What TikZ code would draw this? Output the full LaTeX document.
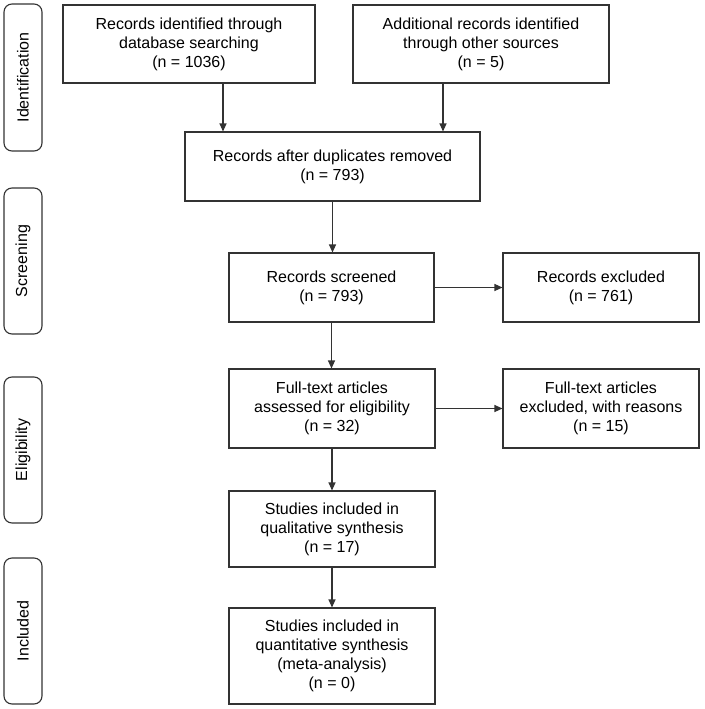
\documentclass[tikz,border=0pt]{standalone}
\usepackage{fontspec}
\setmainfont{Liberation Sans}
\usetikzlibrary{arrows.meta}
\begin{document}
\begin{tikzpicture}[x=1pt,y=-1pt,
  box/.style={draw=black!80, line width=1.1pt, inner sep=0pt, align=center,
    font=\fontsize{16}{19}\selectfont},
  side/.style={draw=black!80, line width=1.1pt, rounded corners=8pt, inner sep=0pt,
    rotate=90, minimum height=38pt, font=\fontsize{16}{19}\selectfont},
  arr/.style={draw=black!80, line width=1.1pt, -{Triangle[length=8pt,width=7pt]}}]
\useasboundingbox[fill=white] (0,0) rectangle (704,709);

% phase labels
\node[side, minimum width=147pt] (id)  at (23,77.5) {Identification};
\node[side, minimum width=146pt] (scr) at (23,261)  {Screening};
\node[side, minimum width=146pt] (eli) at (23,450)  {Eligibility};
\node[side, minimum width=146pt] (inc) at (23,631)  {Included};

% boxes
\node[box, minimum width=252pt, minimum height=78pt] (b1) at (189,44)
  {Records identified through\\database searching\\(n = 1036)};
\node[box, minimum width=256pt, minimum height=78pt] (b2) at (481,44)
  {Additional records identified\\through other sources\\(n = 5)};
\node[box, minimum width=295pt, minimum height=69pt] (b3) at (332.5,166.5)
  {Records after duplicates removed\\(n = 793)};
\node[box, minimum width=205pt, minimum height=69pt] (b4) at (331.5,287.5)
  {Records screened\\(n = 793)};
\node[box, minimum width=196pt, minimum height=69pt] (b5) at (601,287.5)
  {Records excluded\\(n = 761)};
\node[box, minimum width=206pt, minimum height=79pt] (b6) at (332,408.5)
  {Full-text articles\\assessed for eligibility\\(n = 32)};
\node[box, minimum width=196pt, minimum height=79pt] (b7) at (601,408.5)
  {Full-text articles\\excluded, with reasons\\(n = 15)};
\node[box, minimum width=206pt, minimum height=76pt] (b8) at (332,529)
  {Studies included in\\qualitative synthesis\\(n = 17)};
\node[box, minimum width=206pt, minimum height=96pt] (b9) at (332,656)
  {Studies included in\\quantitative synthesis\\(meta-analysis)\\(n = 0)};

% connectors
\draw[arr] ([xshift=34pt]b1.south) -- ([xshift=34pt]b1.south |- b3.north);
\draw[arr] ([xshift=-38pt]b2.south) -- ([xshift=-38pt]b2.south |- b3.north);
\draw[arr] (b3.south) -- (b3.south |- b4.north);
\draw[arr] (b4.east) -- (b4.east -| b5.west);
\draw[arr] (b4.south) -- (b4.south |- b6.north);
\draw[arr] (b6.east) -- (b6.east -| b7.west);
\draw[arr] (b6.south) -- (b8.north);
\draw[arr] (b8.south) -- (b9.north);
\end{tikzpicture}
\end{document}
